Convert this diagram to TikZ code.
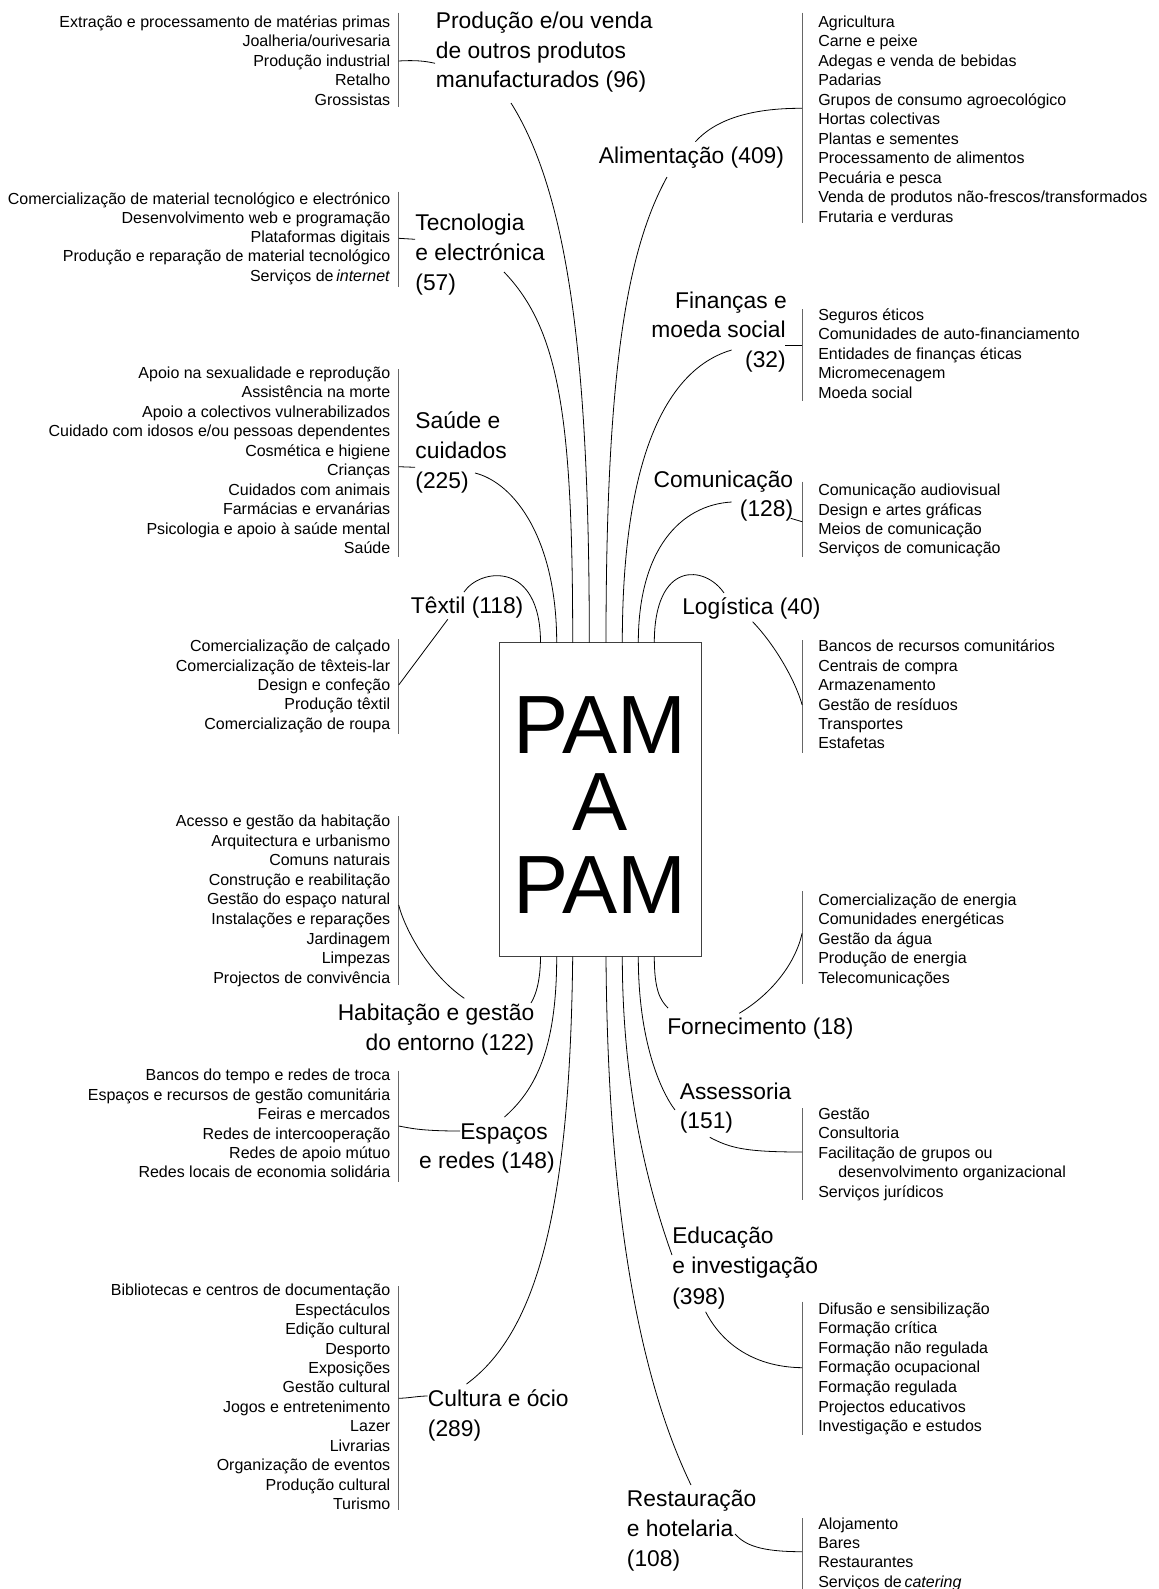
\documentclass[tikz,border=0pt]{standalone}
\usepackage{fontspec}
\setmainfont{Liberation Sans}

% right-aligned list of sub-categories (left side of the chart)
\newcommand{\pamleftlist}[5]{%
  \foreach \t [count=\i] in {#5}
    \node[litem, anchor=base east] (#1-\i) at (#2, {#3+#4*(\i-1)}) {\t};}
% left-aligned list of sub-categories (right side of the chart)
\newcommand{\pamrightlist}[5]{%
  \foreach \t [count=\i] in {#5}
    \node[litem, anchor=base west] (#1-\i) at (#2, {#3+#4*(\i-1)}) {\t};}

\begin{document}
\begin{tikzpicture}[x=0.75pt,y=-0.75pt,
  litem/.style={font=\fontsize{12}{14}\selectfont, inner sep=0pt},
  catw/.style={font=\fontsize{17.1}{20}\selectfont, inner sep=0pt, anchor=base west},
  cate/.style={font=\fontsize{17.1}{20}\selectfont, inner sep=0pt, anchor=base east},
  bigword/.style={font=\fontsize{62}{60}\selectfont, inner sep=0pt, anchor=base},
  bar/.style={draw=black!60, line width=0.75pt},
  link/.style={draw=black, line width=0.6pt},
]
\fill[white] (0,0) rectangle (1158,1589);
\useasboundingbox (0,0) rectangle (1158,1589);

% ---------------- central box ----------------
\node[draw=black!75, line width=0.6pt, minimum width=151.5pt, minimum height=235.5pt, inner sep=0pt] (pam) at (600.5,799.7) {};
\node[bigword] (pam1) at (600,753.3) {PAM};
\node[bigword] (pam2) at (600,830.5) {A};
\node[bigword] (pam3) at (600,913.3) {PAM};

% attachment points on the box
\foreach \n/\x in {tx/540.5, sa/556.7, te/572.7, pr/589.3, al/606, fi/622.3, co/638.3, lo/654.3}
  \coordinate (\n-e) at (\x,642.7);
\foreach \n/\x in {ha/540.5, es/556.7, cu/572.7, re/606, ed/622.3, as/638.3, fo/654.3}
  \coordinate (\n-e) at (\x,956.7);

% ---------------- Produção ----------------
\node[catw] (pr-l1) at (435.6,28.5) {Produção e/ou venda};
\node[catw] (pr-l2) at (435.6,58) {de outros produtos};
\node[catw] (pr-l3) at (435.6,87.5) {manufacturados (96)};
\pamleftlist{pr}{390.5}{27.4}{19.4}{Extração e processamento de matérias primas, Joalheria/ourivesaria, Produção industrial~, Retalho~, Grossistas~}
\coordinate (pr-bt) at (398.7,12.7); \coordinate (pr-bb) at (398.7,107.3);
\coordinate (pr-bj) at (398.7,61); \coordinate (pr-lj) at (435,63.3);
\coordinate (pr-s) at (511,103);
\draw[bar] (pr-bt) -- (pr-bb);
\draw[link] (pr-bj) .. controls (415,60) and (425,61) .. (pr-lj);
\draw[link] (pr-s) .. controls (572,200) and (589.3,380) .. (pr-e);

% ---------------- Tecnologia ----------------
\node[catw] (te-l1) at (415.2,230) {Tecnologia};
\node[catw] (te-l2) at (415.2,260) {e electrónica};
\node[catw] (te-l3) at (415.2,290) {(57)};
\pamleftlist{te}{390.5}{204}{19.25}{Comercialização de material tecnológico e electrónico, Desenvolvimento web e programação, Plataformas digitais~, Produção e reparação de material tecnológico, Serviços de\,\textit{internet}~}
\coordinate (te-bt) at (398.7,191.7); \coordinate (te-bb) at (398.7,286.7);
\coordinate (te-bj) at (398.7,238.3); \coordinate (te-lj) at (415.2,239.3);
\coordinate (te-s) at (504,272);
\draw[bar] (te-bt) -- (te-bb);
\draw[link] (te-bj) -- (te-lj);
\draw[link] (te-s) .. controls (560,330) and (572.7,420) .. (te-e);

% ---------------- Saúde ----------------
\node[catw] (sa-l1) at (415.2,428) {Saúde e};
\node[catw] (sa-l2) at (415.2,458.7) {cuidados};
\node[catw] (sa-l3) at (415.2,488) {(225)};
\pamleftlist{sa}{390.5}{378.4}{19.5}{Apoio na sexualidade e reprodução, Assistência na morte~, Apoio a colectivos vulnerabilizados, Cuidado com idosos e/ou pessoas dependentes, Cosmética e higiene, Crianças~, Cuidados com animais~, Farmácias e ervanárias, Psicologia e apoio à saúde mental, Saúde~}
\coordinate (sa-bt) at (398.7,369.3); \coordinate (sa-bb) at (398.7,557.3);
\coordinate (sa-bj) at (398.7,466.7); \coordinate (sa-lj) at (415.2,467.3);
\coordinate (sa-s) at (475,473);
\draw[bar] (sa-bt) -- (sa-bb);
\draw[link] (sa-bj) -- (sa-lj);
\draw[link] (sa-s) .. controls (515,483) and (556.7,540) .. (sa-e);

% ---------------- Têxtil ----------------
\node[catw] (tx-l1) at (410.7,613) {Têxtil (118)};
\pamleftlist{tx}{390.5}{651.7}{19.4}{Comercialização de calçado, Comercialização de têxteis-lar, Design e confeção~, Produção têxtil~, Comercialização de roupa}
\coordinate (tx-bt) at (398.7,639.3); \coordinate (tx-bb) at (398.7,734);
\coordinate (tx-bj) at (398.7,685); \coordinate (tx-lj) at (447.8,619.3);
\coordinate (tx-s) at (464,592);
\draw[bar] (tx-bt) -- (tx-bb);
\draw[link] (tx-bj) -- (tx-lj);
\draw[link] (tx-s) .. controls (480,568) and (540.5,560) .. (tx-e);

% ---------------- Habitação ----------------
\node[cate] (ha-l1) at (534.5,1020.7) {Habitação e gestão};
\node[cate] (ha-l2) at (534.5,1050.7) {do entorno (122)};
\pamleftlist{ha}{390.5}{826.4}{19.6}{Acesso e gestão da habitação, Arquitectura e urbanismo, Comuns naturais~, Construção e reabilitação, Gestão do espaço natural, Instalações e reparações, Jardinagem~, Limpezas~, Projectos de convivência}
\coordinate (ha-bt) at (398.7,816); \coordinate (ha-bb) at (398.7,985);
\coordinate (ha-bj) at (398.7,905); \coordinate (ha-lj) at (464.3,998.3);
\coordinate (ha-s) at (531,1003);
\draw[bar] (ha-bt) -- (ha-bb);
\draw[link] (ha-bj) .. controls (405,930) and (430,975) .. (ha-lj);
\draw[link] (ha-e) .. controls (540.5,980) and (536,995) .. (ha-s);

% ---------------- Espaços ----------------
\node[catw] (es-l1) at (460,1139.7) {Espaços};
\node[catw] (es-l2) at (418.8,1168.7) {e redes (148)};
\pamleftlist{es}{390.5}{1080.7}{19.45}{Bancos do tempo e redes de troca~, Espaços e recursos de gestão comunitária, Feiras e mercados, Redes de intercooperação, Redes de apoio mútuo~, Redes locais de economia solidária}
\coordinate (es-bt) at (398.7,1070.7); \coordinate (es-bb) at (398.7,1181.7);
\coordinate (es-bj) at (398.7,1126); \coordinate (es-lj) at (460,1131);
\coordinate (es-s) at (504.5,1117);
\draw[bar] (es-bt) -- (es-bb);
\draw[link] (es-bj) .. controls (410,1128) and (420,1131) .. (es-lj);
\draw[link] (es-e) .. controls (556.7,1050) and (535,1090) .. (es-s);

% ---------------- Cultura ----------------
\node[catw] (cu-l1) at (427.7,1406.3) {Cultura e ócio};
\node[catw] (cu-l2) at (427.7,1436.3) {(289)};
\pamleftlist{cu}{390.5}{1295.7}{19.45}{Bibliotecas e centros de documentação, Espectáculos~, Edição cultural~, Desporto~, Exposições~, Gestão cultural~, Jogos e entretenimento~, Lazer~, Livrarias~, Organização de eventos, Produção cultural~, Turismo~}
\coordinate (cu-bt) at (398.7,1286); \coordinate (cu-bb) at (398.7,1510);
\coordinate (cu-bj) at (398.7,1398.3); \coordinate (cu-lj) at (427.7,1396);
\coordinate (cu-s) at (466.5,1384);
\draw[bar] (cu-bt) -- (cu-bb);
\draw[link] (cu-bj) .. controls (410,1398) and (418,1396) .. (cu-lj);
\draw[link] (cu-e) .. controls (570,1200) and (540,1330) .. (cu-s);

% ---------------- Alimentação ----------------
\node[catw] (al-l1) at (598.7,163.5) {Alimentação (409)};
\pamrightlist{al}{818}{27.4}{19.5}{Agricultura, Carne e peixe, Adegas e venda de bebidas, Padarias, Grupos de consumo agroecológico, Hortas colectivas, Plantas e sementes, Processamento de alimentos, Pecuária e pesca, Venda de produtos não-frescos/transformados, Frutaria e verduras}
\coordinate (al-bt) at (802.2,12.7); \coordinate (al-bb) at (802.2,222.7);
\coordinate (al-bj) at (802.2,108.3); \coordinate (al-lj) at (695.4,141.7);
\coordinate (al-s) at (667,177);
\draw[bar] (al-bt) -- (al-bb);
\draw[link] (al-bj) .. controls (750,108) and (715,120) .. (al-lj);
\draw[link] (al-s) .. controls (627,250) and (606,370) .. (al-e);

% ---------------- Finanças ----------------
\node[cate] (fi-l1) at (787,308) {Finanças e};
\node[cate] (fi-l2) at (786,337.5) {moeda social};
\node[cate] (fi-l3) at (786,367.5) {(32)};
\pamrightlist{fi}{818}{320}{19.6}{Seguros éticos, Comunidades de auto-financiamento, Entidades de finanças éticas, Micromecenagem, Moeda social}
\coordinate (fi-bt) at (802.2,309.3); \coordinate (fi-bb) at (802.2,400.7);
\coordinate (fi-bj) at (802.2,345.7); \coordinate (fi-lj) at (785,345.7);
\coordinate (fi-s) at (731.6,350);
\draw[bar] (fi-bt) -- (fi-bb);
\draw[link] (fi-bj) -- (fi-lj);
\draw[link] (fi-s) .. controls (680,365) and (622.3,430) .. (fi-e);

% ---------------- Comunicação ----------------
\node[cate] (co-l1) at (793.4,487.3) {Comunicação};
\node[cate] (co-l2) at (793.4,516.3) {(128)};
\pamrightlist{co}{818}{495.7}{19.4}{Comunicação audiovisual, Design e artes gráficas, Meios de comunicação, Serviços de comunicação}
\coordinate (co-bt) at (802.2,481.7); \coordinate (co-bb) at (802.2,557.3);
\coordinate (co-bj) at (802.2,521.7); \coordinate (co-lj) at (790.7,518.3);
\coordinate (co-s) at (731.6,502);
\draw[bar] (co-bt) -- (co-bb);
\draw[link] (co-lj) -- (co-bj);
\draw[link] (co-s) .. controls (680,505) and (638.3,550) .. (co-e);

% ---------------- Logística ----------------
\node[catw] (lo-l1) at (682,614.7) {Logística (40)};
\pamrightlist{lo}{818}{651.7}{19.45}{Bancos de recursos comunitários, Centrais de compra, Armazenamento, Gestão de resíduos, Transportes, Estafetas}
\coordinate (lo-bt) at (802.2,640); \coordinate (lo-bb) at (802.2,752.7);
\coordinate (lo-bj) at (802.2,705); \coordinate (lo-lj) at (752.6,621.7);
\coordinate (lo-s) at (724,593);
\draw[bar] (lo-bt) -- (lo-bb);
\draw[link] (lo-lj) .. controls (775,645) and (795,680) .. (lo-bj);
\draw[link] (lo-s) .. controls (705,565) and (654.3,560) .. (lo-e);

% ---------------- Fornecimento ----------------
\node[catw] (fo-l1) at (667,1034.7) {Fornecimento (18)};
\pamrightlist{fo}{818}{905}{19.5}{Comercialização de energia, Comunidades energéticas, Gestão da água, Produção de energia, Telecomunicações}
\coordinate (fo-bt) at (802.1,891); \coordinate (fo-bb) at (802.1,984);
\coordinate (fo-bj) at (802.1,933.3); \coordinate (fo-lj) at (739.2,1013.3);
\coordinate (fo-s) at (668,1008);
\draw[bar] (fo-bt) -- (fo-bb);
\draw[link] (fo-bj) .. controls (795,965) and (770,995) .. (fo-lj);
\draw[link] (fo-e) .. controls (654.3,990) and (660,1000) .. (fo-s);

% ---------------- Assessoria ----------------
\node[catw] (as-l1) at (679.6,1099) {Assessoria};
\node[catw] (as-l2) at (679.6,1128.7) {(151)};
\pamrightlist{as}{818}{1119}{19.6}{Gestão, Consultoria, Facilitação de grupos ou, \hspace*{15pt}desenvolvimento organizacional, Serviços jurídicos}
\coordinate (as-bt) at (802.1,1108.3); \coordinate (as-bb) at (802.1,1200);
\coordinate (as-bj) at (802.1,1152); \coordinate (as-lj) at (709.8,1137.3);
\coordinate (as-s) at (675,1110);
\draw[bar] (as-bt) -- (as-bb);
\draw[link] (as-lj) .. controls (730,1148) and (745,1152) .. (as-bj);
\draw[link] (as-e) .. controls (638.3,1040) and (660,1090) .. (as-s);

% ---------------- Educação ----------------
\node[catw] (ed-l1) at (672,1243) {Educação};
\node[catw] (ed-l2) at (672,1273.5) {e investigação};
\node[catw] (ed-l3) at (672,1304) {(398)};
\pamrightlist{ed}{818}{1314}{19.6}{Difusão e sensibilização, Formação crítica, Formação não regulada, Formação ocupacional, Formação regulada, Projectos educativos, Investigação e estudos}
\coordinate (ed-bt) at (802.1,1301.7); \coordinate (ed-bb) at (802.1,1435);
\coordinate (ed-bj) at (802.1,1367.7); \coordinate (ed-lj) at (705.6,1311.7);
\coordinate (ed-s) at (672,1255);
\draw[bar] (ed-bt) -- (ed-bb);
\draw[link] (ed-lj) .. controls (720,1340) and (750,1367) .. (ed-bj);
\draw[link] (ed-e) .. controls (622.3,1080) and (645,1180) .. (ed-s);

% ---------------- Restauração ----------------
\node[catw] (re-l1) at (626.7,1506.3) {Restauração};
\node[catw] (re-l2) at (626.7,1536.3) {e hotelaria};
\node[catw] (re-l3) at (626.7,1566.3) {(108)};
\pamrightlist{re}{818}{1529}{19.45}{Alojamento, Bares, Restaurantes, Serviços de\,\textit{catering}}
\coordinate (re-bt) at (802.1,1518.3); \coordinate (re-bb) at (802.1,1589);
\coordinate (re-bj) at (802.1,1551.7); \coordinate (re-lj) at (735,1534);
\coordinate (re-s) at (691,1485);
\draw[bar] (re-bt) -- (re-bb);
\draw[link] (re-lj) .. controls (745,1545) and (760,1551.7) .. (re-bj);
\draw[link] (re-e) .. controls (608,1250) and (650,1400) .. (re-s);

\end{tikzpicture}
\end{document}
